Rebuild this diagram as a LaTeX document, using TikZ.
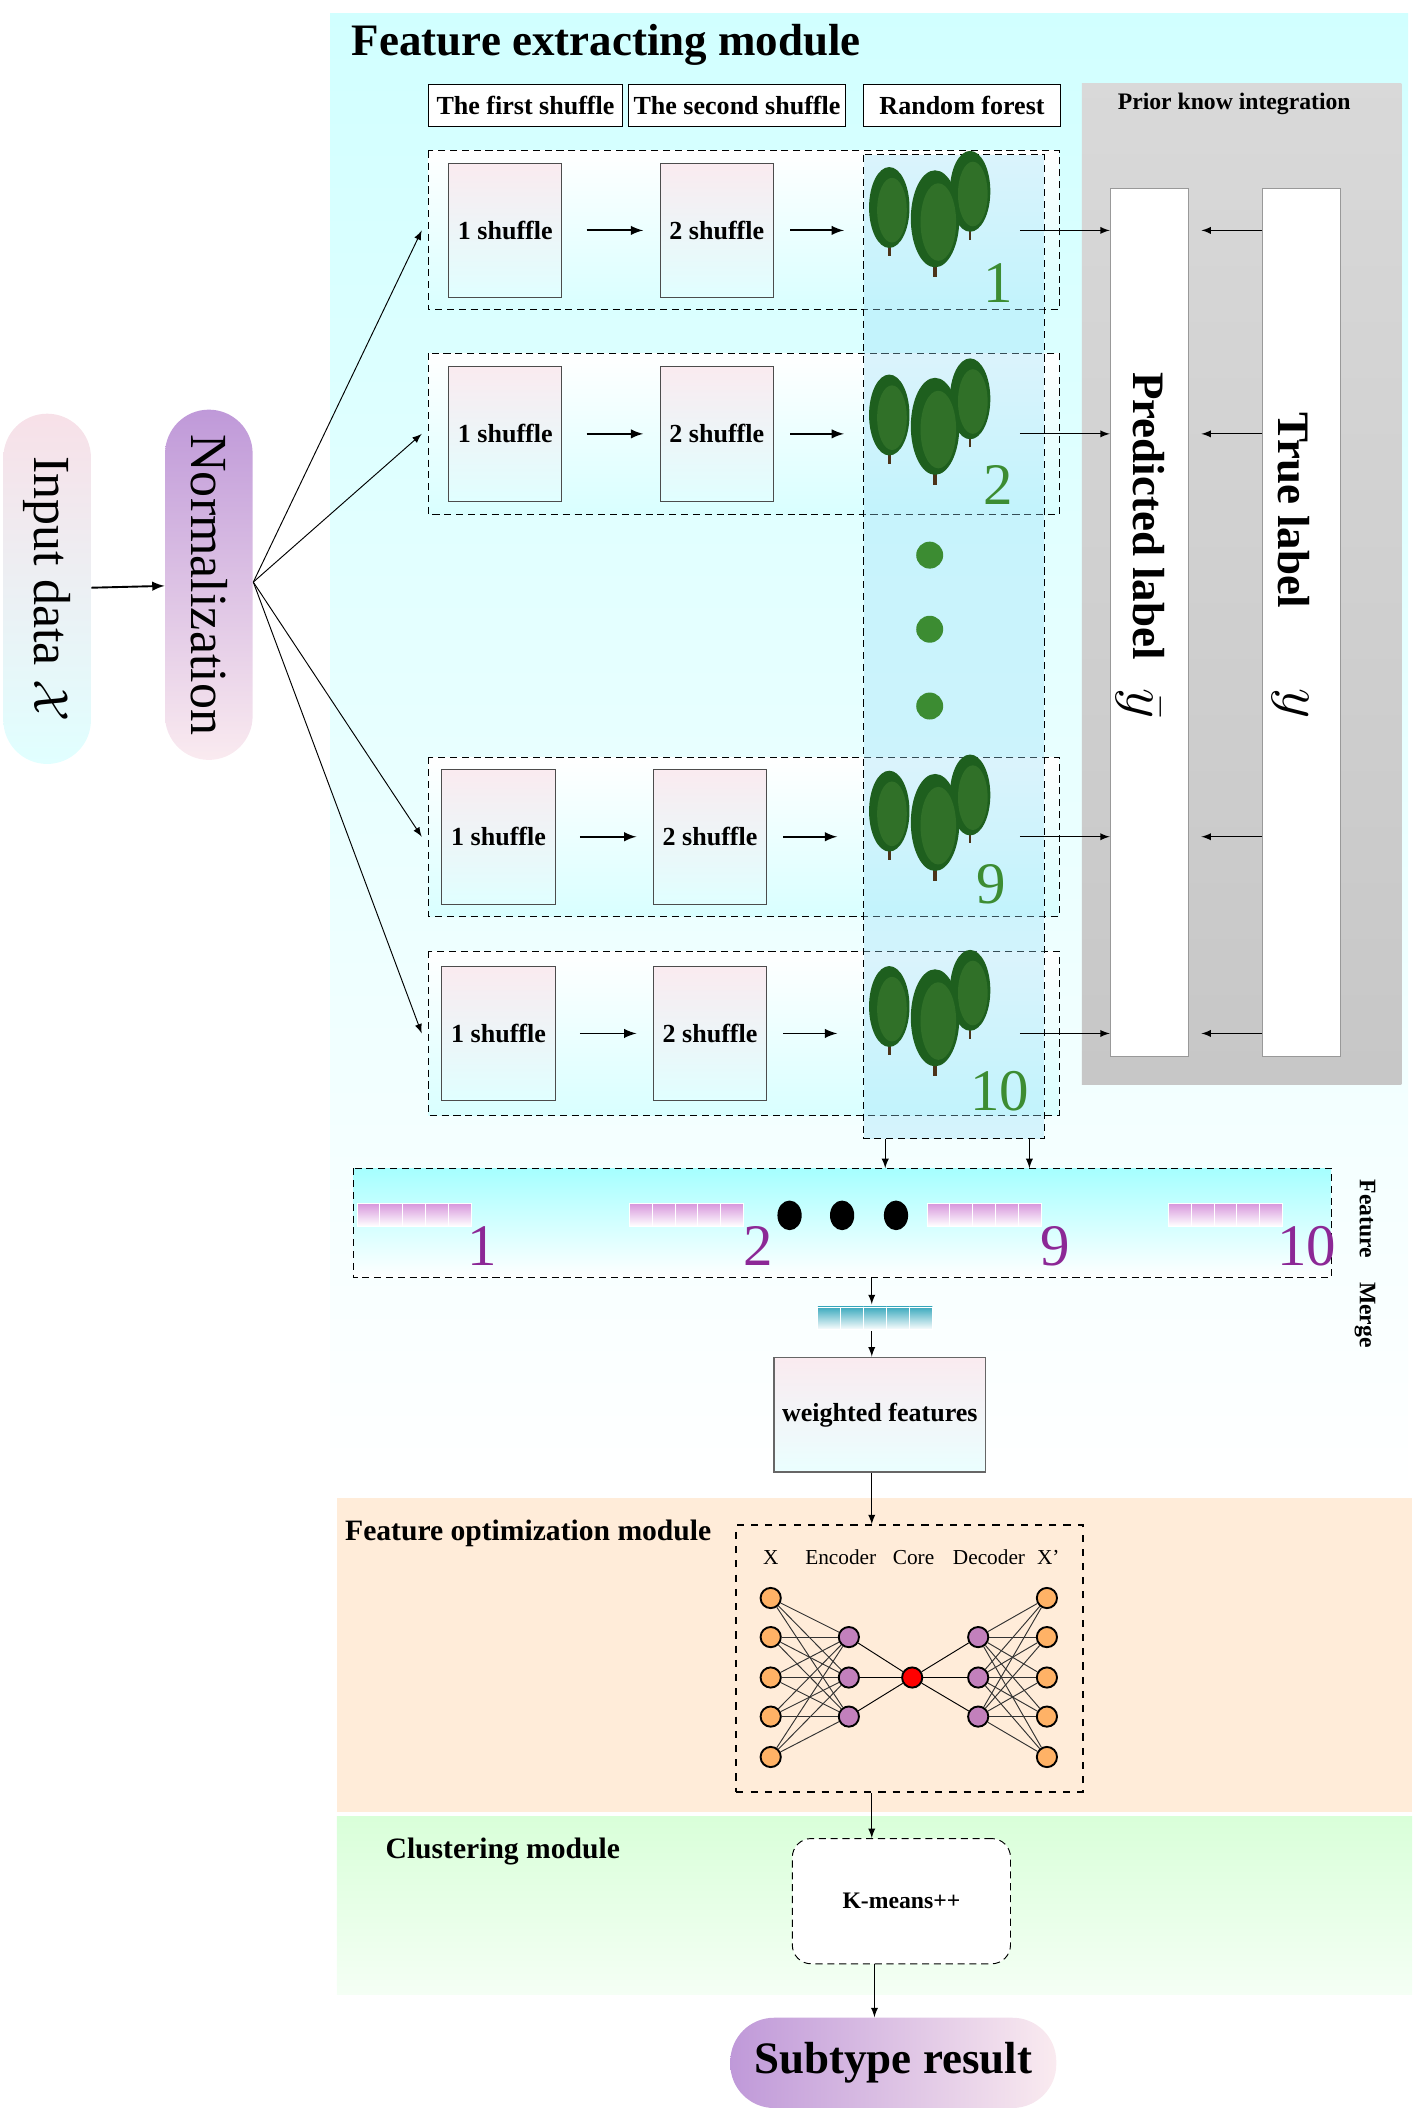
\documentclass[tikz,border=0pt]{standalone}
\usepackage{fontspec}
\setmainfont{Liberation Serif}
\usetikzlibrary{positioning,shapes.geometric}
\definecolor{leaf}{RGB}{60,140,50}
\definecolor{leafdk}{RGB}{30,95,30}
\definecolor{purp}{RGB}{140,40,150}
\definecolor{vecpink}{RGB}{215,150,220}
\definecolor{vecblue}{RGB}{60,170,190}
\tikzset{
  shuf/.style={draw=black!70,top color=purple!8,bottom color=cyan!12,minimum width=1.68cm,minimum height=2cm,font=\bfseries\fontsize{11}{13}\selectfont},
  hdr/.style={draw,fill=white,minimum height=0.62cm,font=\bfseries\fontsize{11}{13}\selectfont,inner sep=2pt},
  row/.style={draw,densely dashed,top color=white,bottom color=cyan!15},
  pill/.style={rounded corners=0.65cm,minimum height=1.3cm,minimum width=5.2cm},
  lab/.style={draw=black!40,fill=white,minimum width=1.16cm,minimum height=12.9cm},
  big/.style={font=\bfseries\fontsize{19}{21}\selectfont},
  arr/.style={-latex,thick},
  thinarr/.style={-latex},
  neu/.style={circle,draw=black,thick,minimum size=0.3cm,inner sep=0pt},
  num/.style={font=\Huge,text=leaf},
}
\newcommand{\tree}[3]{% x, y, scale
  \begin{scope}[shift={(#1,#2)},scale=#3]
    \fill[brown!40!black] (-1,0) rectangle (1,28);
    \fill[leafdk] (0,-8) ellipse (15 and 30);
    \fill[leaf!80!black] (2,-6) ellipse (11 and 24);
  \end{scope}}
\newcommand{\grove}[2]{%
  \tree{#1-30}{#2-10}{1}
  \tree{#1+30}{#2-22}{1}
  \tree{#1+4}{#2}{1.2}}
\newcommand{\vect}[3]{% x, y, colour
  \foreach \k in {0,...,4}
    \draw[white,top color=#3,bottom color=white] (#1+\k*17,#2) rectangle +(17,17);}
\begin{document}
\begin{tikzpicture}[x=0.02cm,y=-0.02cm]
\useasboundingbox (0,0) rectangle (1050,1566);
% panels
\fill[top color=cyan!18,bottom color=white] (245,10) rectangle (1045,1110);
\fill[orange!15] (250,1112) rectangle (1048,1345);
\fill[top color=green!15,bottom color=green!4] (250,1348) rectangle (1048,1480);
\node[big,anchor=west] (fem) at (255,33) {Feature extracting module};
% inputs
\node[pill,rotate=-90,top color=purple!12,bottom color=cyan!12,font=\fontsize{22}{24}\selectfont] (inp) at (35,437) {Input data $\mathcal{X}$};
\node[pill,rotate=-90,top color=purple!50!blue!40,bottom color=purple!8,font=\fontsize{22}{24}\selectfont] (norm) at (155,434) {Normalization};
\draw[arr] (inp) -- (norm);
\coordinate (fan) at (188,432);
% header boxes
\node[hdr,minimum width=2.88cm] (h1) at (390,78) {The first shuffle};
\node[hdr,minimum width=3.08cm] (h2) at (547,78) {The second shuffle};
\node[hdr,minimum width=2.92cm] (h3) at (714,78) {Random forest};
% prior panel
\fill[top color=black!15,bottom color=black!22] (803,62) rectangle (1040,805);
\node[font=\bfseries] (prior) at (916,77) {Prior know integration};
\node[lab] (pred) at (853,462) {};
\node[lab] (true) at (966,462) {};
\node[rotate=-90,big,anchor=west] at (853,270) {Predicted label};
\node[rotate=-90,font=\fontsize{26}{28}\selectfont] at (845,522) {$\bar{y}$};
\node[rotate=-90,big,anchor=west] at (960,300) {True label};
\node[rotate=-90,font=\fontsize{26}{28}\selectfont] at (958,522) {$y$};
% rows
\foreach \i/\ya/\yb/\dx in {1/112/230/0,2/262/382/0,3/562/680/-5,4/706/828/-5}{
  \draw[row] (318,\ya) rectangle (786,\yb);
  \pgfmathsetmacro{\ym}{(\ya+\yb)/2}
  \node[shuf] (s1\i) at (375+\dx,\ym) {1 shuffle};
  \node[shuf] (s2\i) at (532+\dx,\ym) {2 shuffle};
  \coordinate (in\i) at (313,\ym);
  \draw[arr] (s1\i.east) ++(18,0) -- ++(42,0);
  \draw[arr] (s2\i.east) ++(12,0) -- ++(40,0);
  \coordinate (rf\i) at (757,\ym);
  \draw[thinarr] (fan) -- (in\i);
}
\fill[cyan!40,opacity=0.35] (641,115) rectangle (775,845);
\draw[densely dashed] (641,115) rectangle (775,845);
\grove{690}{172}\grove{690}{326}\grove{690}{620}\grove{690}{765}
\node[num] (n1) at (741,210) {1};
\node[num] (n2) at (741,360) {2};
\node[num] (n9) at (736,656) {9};
\node[num] (n10) at (742,810) {10};
\foreach \y in {412,467,524} \fill[leaf] (690,\y) circle (10);
\foreach \i in {1,...,4}{
  \draw[thinarr] (rf\i) -- (pred.west |- rf\i);
  \draw[thinarr] (true.west |- rf\i) -- ++(-45,0);
}
% feature merge
\draw[densely dashed,top color=cyan!35,bottom color=white] (262,867) rectangle (988,948);
\coordinate (c1) at (657,845); \coordinate (c2) at (764,845);
\draw[thinarr] (c1) -- ++(0,22); \draw[thinarr] (c2) -- ++(0,22);
\vect{265}{893}{vecpink}\vect{467}{893}{vecpink}\vect{688}{893}{vecpink}\vect{867}{893}{vecpink}
\node[font=\Huge,text=purp] at (358,925) {1};
\node[font=\Huge,text=purp] at (563,925) {2};
\node[font=\Huge,text=purp] at (783,925) {9};
\node[font=\Huge,text=purp] at (970,925) {10};
\foreach \x in {586,625,665} \fill (\x,902) ellipse (9 and 11);
\node[rotate=-90,font=\bfseries] (fm) at (1013,938) {Feature\quad Merge};
\coordinate (mb) at (647,948);
\vect{607}{970}{vecblue}
\draw[thinarr] (mb) -- ++(0,20);
\node[draw=black!60,thick,top color=purple!8,bottom color=cyan!8,minimum width=3.04cm,minimum height=1.7cm,font=\bfseries\fontsize{11}{13}\selectfont] (wf) at (653,1050) {weighted features};
\draw[thinarr] (647,988) -- (wf.north -| 647,0);
% feature optimization
\node[font=\bfseries\fontsize{12.5}{15}\selectfont,anchor=west] (fom) at (250,1138) {Feature optimization module};
\node[draw,dashed,thick,minimum width=5.14cm,minimum height=3.96cm] (ae) at (675,1231) {};
\draw[thinarr] (wf.south -| 647,0) -- (ae.north -| 647,0);
\foreach \x/\t in {572/X,624/Encoder,678/Core,734/Decoder,778/X'}
  \node[font=\small] at (\x,1156) {\t};
\foreach \j/\y in {1/1186,2/1215,3/1245,4/1274,5/1304}{
  \node[neu,fill=orange!60] (a\j) at (572,\y) {};
  \node[neu,fill=orange!60] (d\j) at (777,\y) {};}
\foreach \j/\y in {1/1215,2/1245,3/1274}{
  \node[neu,fill=blue!30!purple!50] (b\j) at (630,\y) {};
  \node[neu,fill=blue!30!purple!50] (c\j) at (726,\y) {};}
\node[neu,fill=red] (core) at (677,1245) {};
\foreach \j in {1,...,5} \foreach \k in {1,2,3}{
  \draw[black!80] (a\j) -- (b\k); \draw[black!80] (c\k) -- (d\j);}
\foreach \k in {1,2,3}{\draw (b\k) -- (core); \draw (core) -- (c\k);}
% clustering
\node[font=\bfseries\fontsize{12.5}{15}\selectfont,anchor=west] (cm) at (280,1374) {Clustering module};
\node[draw,densely dashed,rounded corners=8pt,fill=white,minimum width=3.24cm,minimum height=1.86cm,font=\bfseries] (km) at (669,1411) {K-means++};
\draw[thinarr] (ae.south -| 647,0) -- (km.north -| 647,0);
\node[rounded corners=0.65cm,minimum width=4.84cm,minimum height=1.34cm,left color=purple!50!blue!40,right color=purple!8,big] (res) at (663,1531) {Subtype result};
\draw[thinarr] (km.south -| 649,0) -- (res.north -| 649,0);
\end{tikzpicture}
\end{document}
